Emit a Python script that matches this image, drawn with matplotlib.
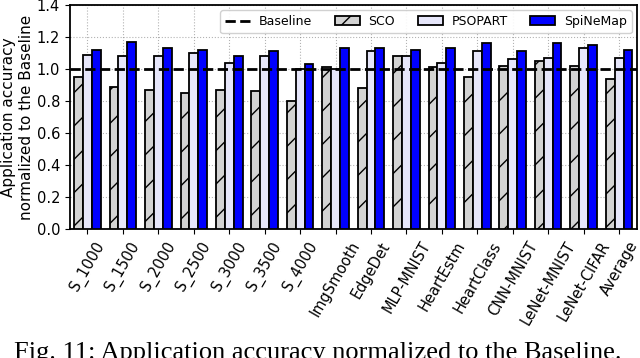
import numpy as np
import matplotlib.pyplot as plt

# accuracy normalized to the baseline
apps = ['S_1000', 'S_1500', 'S_2000', 'S_2500', 'S_3000', 'S_3500', 'S_4000',
        'ImgSmooth', 'EdgeDet', 'MLP-MNIST', 'HeartEstm', 'HeartClass',
        'CNN-MNIST', 'LeNet-MNIST', 'LeNet-CIFAR', 'Average']
sco = [0.95, 0.89, 0.87, 0.85, 0.87, 0.86, 0.80, 1.01, 0.88, 1.08, 1.01, 0.95,
       1.02, 1.05, 1.02, 0.94]
psopart = [1.09, 1.08, 1.08, 1.10, 1.04, 1.08, 1.00, 1.00, 1.11, 1.08, 1.04, 1.11,
           1.06, 1.07, 1.13, 1.07]
spinemap = [1.12, 1.17, 1.13, 1.12, 1.08, 1.11, 1.03, 1.13, 1.13, 1.12, 1.13, 1.16,
            1.11, 1.16, 1.15, 1.12]
baseline = 1.0

plt.rcParams['hatch.linewidth'] = 1.0

fig = plt.figure(figsize=(6.4, 3.58), dpi=100)
ax = fig.add_axes([0.109, 0.36, 0.886, 0.626])

x = np.arange(len(apps))
w = 0.25
b1 = ax.bar(x - w, sco, w, color='lightgray', edgecolor='black', linewidth=1.3,
            hatch='/', zorder=3)
b2 = ax.bar(x, psopart, w, color='lavender', edgecolor='black', linewidth=1.3,
            zorder=3)
b3 = ax.bar(x + w, spinemap, w, color='blue', edgecolor='black', linewidth=1.3,
            zorder=3)
bl = ax.axhline(baseline, color='black', linestyle='--', linewidth=2, zorder=4)

ax.set_xlim(-0.5, 15.5)
ax.set_ylim(0, 1.4)
ax.set_yticks(np.arange(0, 1.41, 0.2))
ax.set_xticks(x)
ax.set_xticklabels(apps, rotation=60, ha='center', fontsize=10.5)
ax.tick_params(axis='y', labelsize=10.5)
ax.set_ylabel('Application accuracy\nnormalized to the Baseline', fontsize=11,
              labelpad=2)
ax.grid(True, linestyle=':', color='gray', alpha=0.6, zorder=0)
for s in ax.spines.values():
    s.set_linewidth(1.3)

ax.legend([bl, b1, b2, b3], ['Baseline', 'SCO', 'PSOPART', 'SpiNeMap'],
          loc='upper right', ncol=4, fontsize=9, handlelength=2.0,
          handletextpad=0.7, columnspacing=1.8, borderaxespad=0.4,
          framealpha=0.9)

fig.text(0.022, 0.045, 'Fig. 11: Application accuracy normalized to the Baseline.',
         family='Liberation Serif', fontsize=19, va='top', ha='left')

fig.savefig('out.png', dpi=100)
